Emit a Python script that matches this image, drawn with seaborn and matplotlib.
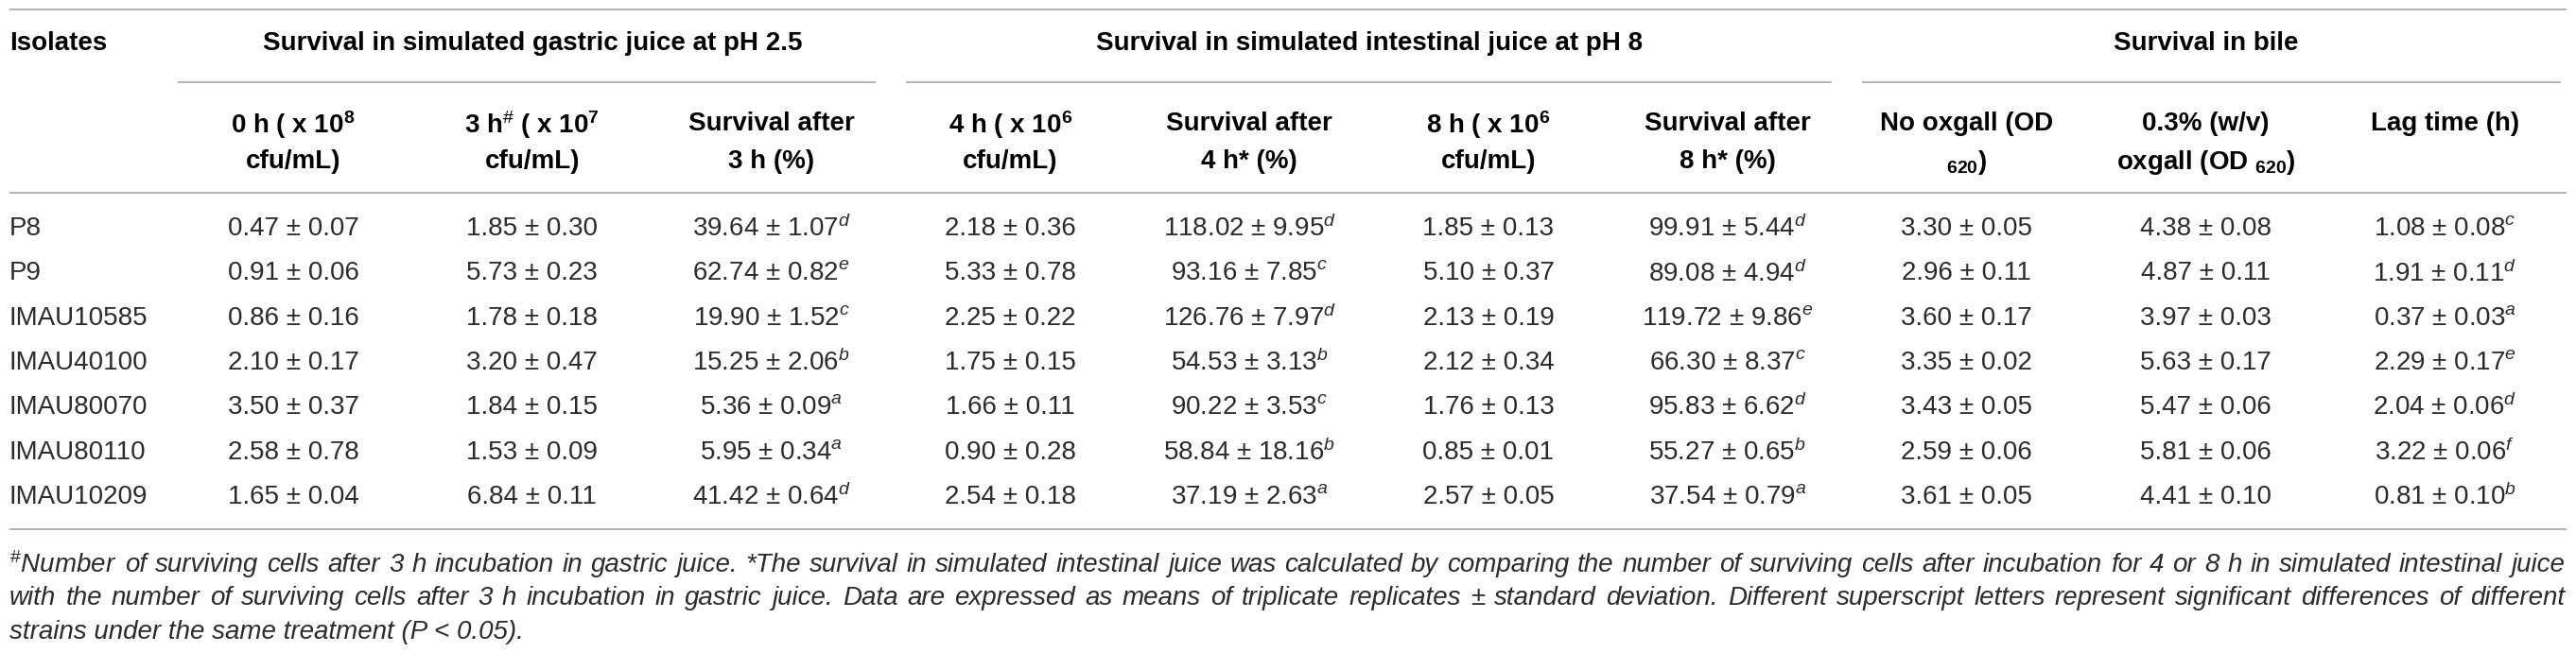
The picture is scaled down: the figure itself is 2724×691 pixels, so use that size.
import numpy as np
import matplotlib
matplotlib.use("Agg")
import matplotlib.pyplot as plt
import seaborn as sns

# table data
isolates = ["P8", "P9", "IMAU10585", "IMAU40100", "IMAU80070", "IMAU80110", "IMAU10209"]

gastric_0h = [0.47, 0.91, 0.86, 2.10, 3.50, 2.58, 1.65]
gastric_0h_sd = [0.07, 0.06, 0.16, 0.17, 0.37, 0.78, 0.04]
gastric_3h = [1.85, 5.73, 1.78, 3.20, 1.84, 1.53, 6.84]
gastric_3h_sd = [0.30, 0.23, 0.18, 0.47, 0.15, 0.09, 0.11]
surv_3h = [39.64, 62.74, 19.90, 15.25, 5.36, 5.95, 41.42]
surv_3h_sd = [1.07, 0.82, 1.52, 2.06, 0.09, 0.34, 0.64]
surv_3h_let = ["d", "e", "c", "b", "a", "a", "d"]

intest_4h = [2.18, 5.33, 2.25, 1.75, 1.66, 0.90, 2.54]
intest_4h_sd = [0.36, 0.78, 0.22, 0.15, 0.11, 0.28, 0.18]
surv_4h = [118.02, 93.16, 126.76, 54.53, 90.22, 58.84, 37.19]
surv_4h_sd = [9.95, 7.85, 7.97, 3.13, 3.53, 18.16, 2.63]
surv_4h_let = ["d", "c", "d", "b", "c", "b", "a"]
intest_8h = [1.85, 5.10, 2.13, 2.12, 1.76, 0.85, 2.57]
intest_8h_sd = [0.13, 0.37, 0.19, 0.34, 0.13, 0.01, 0.05]
surv_8h = [99.91, 89.08, 119.72, 66.30, 95.83, 55.27, 37.54]
surv_8h_sd = [5.44, 4.94, 9.86, 8.37, 6.62, 0.65, 0.79]
surv_8h_let = ["d", "d", "e", "c", "d", "b", "a"]

no_oxgall = [3.30, 2.96, 3.60, 3.35, 3.43, 2.59, 3.61]
no_oxgall_sd = [0.05, 0.11, 0.17, 0.02, 0.05, 0.06, 0.05]
oxgall = [4.38, 4.87, 3.97, 5.63, 5.47, 5.81, 4.41]
oxgall_sd = [0.08, 0.11, 0.03, 0.17, 0.06, 0.06, 0.10]
lag_time = [1.08, 1.91, 0.37, 2.29, 2.04, 3.22, 0.81]
lag_time_sd = [0.08, 0.11, 0.03, 0.17, 0.06, 0.06, 0.10]
lag_time_let = ["c", "d", "a", "e", "d", "f", "b"]

group_titles = ["Survival in simulated gastric juice at pH 2.5",
                "Survival in simulated intestinal juice at pH 8",
                "Survival in bile"]
group_cols = [(0, 2), (3, 6), (7, 9)]

col_headers = [
    ["0 h ( x 10$^{\\mathbf{8}}$", "cfu/mL)"],
    ["3 h$^{\\#}$ ( x 10$^{\\mathbf{7}}$", "cfu/mL)"],
    ["Survival after", "3 h (%)"],
    ["4 h ( x 10$^{\\mathbf{6}}$", "cfu/mL)"],
    ["Survival after", "4 h* (%)"],
    ["8 h ( x 10$^{\\mathbf{6}}$", "cfu/mL)"],
    ["Survival after", "8 h* (%)"],
    ["No oxgall (OD", "$_{\\mathbf{620}}$)"],
    ["0.3% (w/v)", "oxgall (OD $_{\\mathbf{620}}$)"],
    ["Lag time (h)", ""],
]

footnote = [
    "$^{\\#}$Number of surviving cells after 3 h incubation in gastric juice. *The survival in simulated intestinal juice was calculated by comparing the number of surviving cells after incubation for 4 or 8 h in simulated intestinal juice",
    "with the number of surviving cells after 3 h incubation in gastric juice. Data are expressed as means of triplicate replicates \u00b1 standard deviation. Different superscript letters represent significant differences of different",
    "strains under the same treatment (P < 0.05).",
]

columns = [
    (gastric_0h, gastric_0h_sd, None),
    (gastric_3h, gastric_3h_sd, None),
    (surv_3h, surv_3h_sd, surv_3h_let),
    (intest_4h, intest_4h_sd, None),
    (surv_4h, surv_4h_sd, surv_4h_let),
    (intest_8h, intest_8h_sd, None),
    (surv_8h, surv_8h_sd, surv_8h_let),
    (no_oxgall, no_oxgall_sd, None),
    (oxgall, oxgall_sd, None),
    (lag_time, lag_time_sd, lag_time_let),
]


def cell(m, s, let):
    txt = "{:.2f} \u00b1 {:.2f}".format(m, s)
    if let:
        txt += "$^{" + let + "}$"
    return txt


sns.set_theme(style="white")
plt.rcParams["font.family"] = ["Liberation Sans", "DejaVu Sans"]
plt.rcParams["mathtext.fontset"] = "custom"
plt.rcParams["mathtext.rm"] = "Liberation Sans"
plt.rcParams["mathtext.it"] = "Liberation Sans:italic"
plt.rcParams["mathtext.bf"] = "Liberation Sans:bold"

W, H = 2724, 691
fig = plt.figure(figsize=(W / 100, H / 100), dpi=100)
ax = fig.add_axes([0, 0, 1, 1])
ax.set_xlim(0, W)
ax.set_ylim(H, 0)
ax.axis("off")

# layout in pixel units
left = 10
right = 2714
col_x = 310 + np.arange(10) * 252.8
col_w = 252.8
row_y = 239 + np.arange(len(isolates)) * 47.3
line_col = "#b4b4b4"
lw = 1.5
fs = 20
txt_col = "#2b2b2b"

# rules
for y in [10, 204, 560]:
    ax.plot([left, right], [y, y], color=line_col, lw=lw, solid_capstyle="butt")

# group headers
ax.text(left, 46, "Isolates", ha="left", va="center", fontsize=fs, fontweight="bold", color="black")
for title, (a, b) in zip(group_titles, group_cols):
    cx = (col_x[a] + col_x[b]) / 2
    ax.text(cx, 46, title, ha="center", va="center", fontsize=fs, fontweight="bold", color="black")
    x0 = col_x[a] - col_w / 2 + (4 if a == 0 else 16)
    x1 = col_x[b] + col_w / 2 - (4 if b == 9 else 16)
    ax.plot([x0, x1], [87, 87], color=line_col, lw=lw, solid_capstyle="butt")

# column headers
for cx, (l1, l2) in zip(col_x, col_headers):
    ax.text(cx, 128, l1, ha="center", va="center_baseline", fontsize=fs, fontweight="bold", color="black")
    if l2:
        ax.text(cx, 168, l2, ha="center", va="center_baseline", fontsize=fs, fontweight="bold", color="black")

# body
for i, name in enumerate(isolates):
    ax.text(left, row_y[i], name, ha="left", va="center_baseline", fontsize=fs, color=txt_col)
    for cx, (m, s, let) in zip(col_x, columns):
        ax.text(cx, row_y[i], cell(m[i], s[i], let[i] if let else None),
                ha="center", va="center_baseline", fontsize=fs, color=txt_col)

# footnote, first two lines justified to the table width
renderer = fig.canvas.get_renderer()
for k, line in enumerate(footnote):
    y = 595 + k * 35.5
    if k == len(footnote) - 1:
        ax.text(left, y, line, ha="left", va="center_baseline", fontsize=fs,
                fontstyle="italic", color=txt_col)
        continue
    words = line.split(" ")
    objs = [ax.text(0, y, w, ha="left", va="center_baseline", fontsize=fs,
                    fontstyle="italic", color=txt_col) for w in words]
    widths = [t.get_window_extent(renderer).width for t in objs]
    gap = (right - 2 - left - sum(widths)) / (len(words) - 1)
    x = left
    for t, w in zip(objs, widths):
        t.set_x(x)
        x += w + gap

fig.savefig("out.png", dpi=100)
